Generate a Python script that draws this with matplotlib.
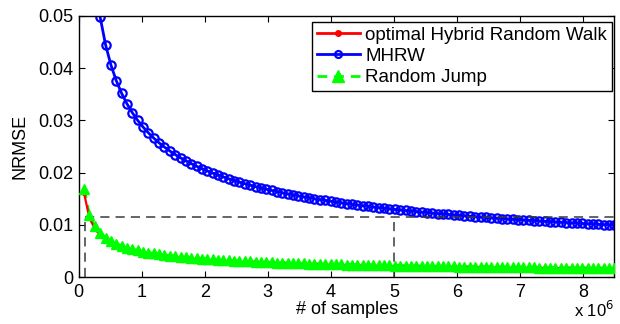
import numpy as np
import matplotlib
matplotlib.use('Agg')
import matplotlib.pyplot as plt
from matplotlib.lines import Line2D

plt.rcParams['font.family'] = ['Liberation Sans', 'DejaVu Sans']

# number of samples, in millions
samples = [0.085, 0.170, 0.255, 0.340, 0.425, 0.510, 0.595, 0.680, 0.765, 0.850,
           0.935, 1.020, 1.105, 1.190, 1.275, 1.360, 1.445, 1.530, 1.615, 1.700,
           1.785, 1.870, 1.955, 2.040, 2.125, 2.210, 2.295, 2.380, 2.465, 2.550,
           2.635, 2.720, 2.805, 2.890, 2.975, 3.060, 3.145, 3.230, 3.315, 3.400,
           3.485, 3.570, 3.655, 3.740, 3.825, 3.910, 3.995, 4.080, 4.165, 4.250,
           4.335, 4.420, 4.505, 4.590, 4.675, 4.760, 4.845, 4.930, 5.015, 5.100,
           5.185, 5.270, 5.355, 5.440, 5.525, 5.610, 5.695, 5.780, 5.865, 5.950,
           6.035, 6.120, 6.205, 6.290, 6.375, 6.460, 6.545, 6.630, 6.715, 6.800,
           6.885, 6.970, 7.055, 7.140, 7.225, 7.310, 7.395, 7.480, 7.565, 7.650,
           7.735, 7.820, 7.905, 7.990, 8.075, 8.160, 8.245, 8.330, 8.415, 8.500]

hybrid = [0.01600, 0.01131, 0.00924, 0.00800, 0.00716, 0.00653, 0.00605, 0.00566, 0.00533, 0.00506,
          0.00482, 0.00462, 0.00444, 0.00428, 0.00413, 0.00400, 0.00388, 0.00377, 0.00367, 0.00358,
          0.00349, 0.00341, 0.00334, 0.00327, 0.00320, 0.00314, 0.00308, 0.00302, 0.00297, 0.00292,
          0.00287, 0.00283, 0.00279, 0.00274, 0.00270, 0.00267, 0.00263, 0.00260, 0.00256, 0.00253,
          0.00250, 0.00247, 0.00244, 0.00241, 0.00239, 0.00236, 0.00233, 0.00231, 0.00229, 0.00226,
          0.00224, 0.00222, 0.00220, 0.00218, 0.00216, 0.00214, 0.00212, 0.00210, 0.00208, 0.00207,
          0.00205, 0.00203, 0.00202, 0.00200, 0.00198, 0.00197, 0.00196, 0.00194, 0.00193, 0.00191,
          0.00190, 0.00189, 0.00187, 0.00186, 0.00185, 0.00184, 0.00182, 0.00181, 0.00180, 0.00179,
          0.00178, 0.00177, 0.00176, 0.00175, 0.00174, 0.00172, 0.00172, 0.00171, 0.00170, 0.00169,
          0.00168, 0.00167, 0.00166, 0.00165, 0.00164, 0.00163, 0.00162, 0.00162, 0.00161, 0.00160]

# MHRW is only visible from the 4th sample point on (above 0.05 before that)
mhrw = [0.04975, 0.04450, 0.04062, 0.03761, 0.03518, 0.03317,
        0.03146, 0.03000, 0.02873, 0.02760, 0.02660, 0.02569, 0.02488, 0.02413, 0.02345, 0.02283,
        0.02225, 0.02171, 0.02121, 0.02075, 0.02031, 0.01990, 0.01951, 0.01915, 0.01881, 0.01848,
        0.01817, 0.01787, 0.01759, 0.01732, 0.01706, 0.01682, 0.01659, 0.01636, 0.01614, 0.01593,
        0.01573, 0.01554, 0.01535, 0.01517, 0.01500, 0.01484, 0.01467, 0.01452, 0.01436, 0.01422,
        0.01407, 0.01393, 0.01380, 0.01367, 0.01354, 0.01341, 0.01329, 0.01318, 0.01306, 0.01295,
        0.01285, 0.01274, 0.01264, 0.01254, 0.01244, 0.01234, 0.01225, 0.01216, 0.01207, 0.01198,
        0.01189, 0.01181, 0.01173, 0.01164, 0.01156, 0.01149, 0.01141, 0.01134, 0.01126, 0.01119,
        0.01112, 0.01105, 0.01099, 0.01092, 0.01086, 0.01080, 0.01073, 0.01067, 0.01061, 0.01055,
        0.01049, 0.01043, 0.01038, 0.01032, 0.01026, 0.01021, 0.01016, 0.01010, 0.01005, 0.01000,
        0.00995]

random_jump = [0.01690, 0.01195, 0.00976, 0.00845, 0.00756, 0.00690, 0.00639, 0.00598, 0.00563, 0.00534,
               0.00510, 0.00488, 0.00469, 0.00452, 0.00436, 0.00423, 0.00410, 0.00398, 0.00388, 0.00378,
               0.00369, 0.00360, 0.00352, 0.00345, 0.00338, 0.00331, 0.00325, 0.00319, 0.00314, 0.00309,
               0.00304, 0.00299, 0.00294, 0.00290, 0.00286, 0.00282, 0.00278, 0.00274, 0.00271, 0.00267,
               0.00264, 0.00261, 0.00258, 0.00255, 0.00252, 0.00249, 0.00247, 0.00244, 0.00241, 0.00239,
               0.00237, 0.00234, 0.00232, 0.00230, 0.00228, 0.00226, 0.00224, 0.00222, 0.00220, 0.00218,
               0.00216, 0.00215, 0.00213, 0.00211, 0.00210, 0.00208, 0.00207, 0.00205, 0.00203, 0.00202,
               0.00201, 0.00199, 0.00198, 0.00196, 0.00195, 0.00194, 0.00193, 0.00191, 0.00190, 0.00189,
               0.00188, 0.00187, 0.00186, 0.00184, 0.00183, 0.00182, 0.00181, 0.00180, 0.00179, 0.00178,
               0.00177, 0.00176, 0.00175, 0.00174, 0.00173, 0.00173, 0.00172, 0.00171, 0.00170, 0.00169]

# reference level and where each walk reaches it
target_nrmse = 0.0115
hybrid_reach = 0.1
mhrw_reach = 5.0

fig = plt.figure(figsize=(6.2, 3.24), dpi=100)
ax = fig.add_axes([0.127, 0.145, 0.864, 0.806])

n_mhrw = len(samples) - len(mhrw)
rj_dash = (0, (3.5, 2.5))
ax.plot(samples[n_mhrw:], mhrw, color='#0000ff', ls='-', lw=2, marker='o',
        ms=6, mfc='none', mew=1.6)
# green line under the red one, green triangles on top of both
ax.plot(samples, random_jump, color='#00ff00', ls=rj_dash, lw=2, zorder=2)
ax.plot(samples, hybrid, color='#ff0000', ls='-', lw=1.6, marker='o', ms=2.8, zorder=2.5)
ax.plot(samples, random_jump, color='#00ff00', ls='none', marker='^', ms=7.5, zorder=3)

dash = dict(color='#3a3a3a', lw=1.1, ls=(0, (6, 4)))
ax.plot([hybrid_reach, 8.5], [target_nrmse, target_nrmse], **dash)
ax.plot([hybrid_reach, hybrid_reach], [0, target_nrmse], **dash)
ax.plot([mhrw_reach, mhrw_reach], [0, target_nrmse], **dash)

ax.set_xlim(0, 8.5)
ax.set_ylim(0, 0.05)
ax.set_xticks(range(0, 9))
ax.set_yticks([0, 0.01, 0.02, 0.03, 0.04, 0.05])
ax.set_yticklabels(['0', '0.01', '0.02', '0.03', '0.04', '0.05'])
ax.tick_params(direction='in', top=True, right=True, labelsize=13, length=4, width=0.8)
ax.tick_params(axis='x', pad=5)
ax.tick_params(axis='y', pad=4)
for s in ax.spines.values():
    s.set_linewidth(1)

ax.set_xlabel('# of samples', fontsize=13, labelpad=0)
ax.set_ylabel('NRMSE', fontsize=13, labelpad=7)
ax.text(1.0, -0.165, r'x 10$^6$', transform=ax.transAxes, ha='right', va='bottom', fontsize=12)

handles = [
    Line2D([], [], color='#ff0000', lw=2, marker='o', ms=4),
    Line2D([], [], color='#0000ff', lw=2, marker='o', ms=5, mfc='none', mew=1.6),
    Line2D([], [], color='#00ff00', lw=2, ls=rj_dash, marker='^', ms=8),
]
labels = ['optimal Hybrid Random Walk', 'MHRW', 'Random Jump']
leg = ax.legend(handles, labels, loc='upper right', fontsize=13.5,
                bbox_to_anchor=(0.9953, 0.977), borderaxespad=0,
                fancybox=False, edgecolor='black', framealpha=1,
                borderpad=0.25, labelspacing=0.22, handlelength=2.3, handletextpad=0.3)
leg.get_frame().set_linewidth(1)

plt.savefig('out.png', dpi=100)
